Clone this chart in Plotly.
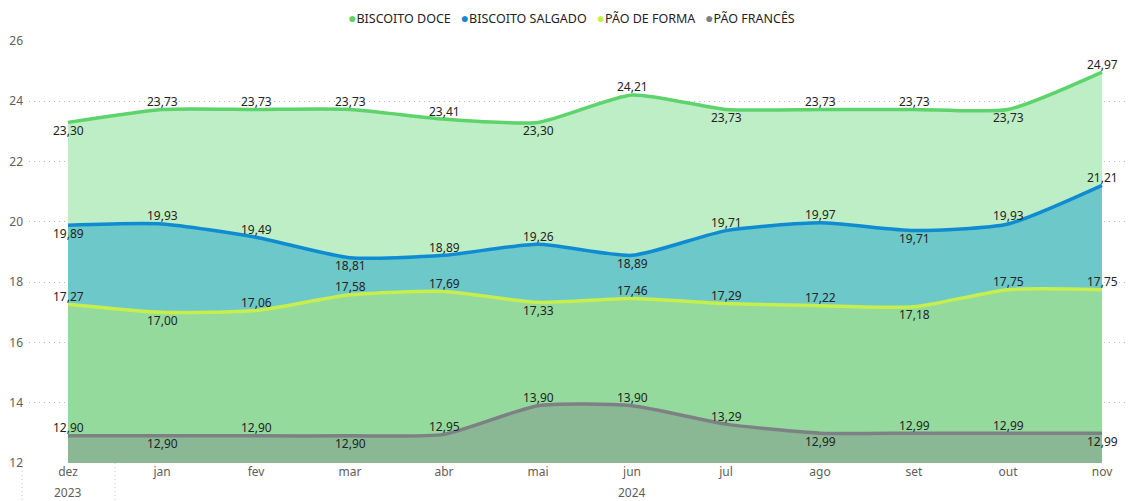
import plotly.graph_objects as go

months = ["dez", "jan", "fev", "mar", "abr", "mai", "jun", "jul", "ago", "set", "out", "nov"]
years = ["2023", "2024"]
year_centers = [0, 6]

series_names = ["BISCOITO DOCE", "BISCOITO SALGADO", "PÃO DE FORMA", "PÃO FRANCÊS"]
doce = [23.30, 23.73, 23.73, 23.73, 23.41, 23.30, 24.21, 23.73, 23.73, 23.73, 23.73, 24.97]
salgado = [19.89, 19.93, 19.49, 18.81, 18.89, 19.26, 18.89, 19.71, 19.97, 19.71, 19.93, 21.21]
forma = [17.27, 17.00, 17.06, 17.58, 17.69, 17.33, 17.46, 17.29, 17.22, 17.18, 17.75, 17.75]
frances = [12.90, 12.90, 12.90, 12.90, 12.95, 13.90, 13.90, 13.29, 12.99, 12.99, 12.99, 12.99]

# label placement: 1 = above, -1 = below
doce_pos = [-1, 1, 1, 1, 1, -1, 1, -1, 1, 1, -1, 1]
salgado_pos = [-1, 1, 1, -1, 1, 1, -1, 1, 1, -1, 1, 1]
forma_pos = [1, -1, 1, 1, 1, -1, 1, 1, 1, -1, 1, 1]
frances_pos = [1, -1, 1, -1, 1, 1, 1, 1, -1, 1, 1, -1]

line_colors = ["#5CD36B", "#0F8BD2", "#C6EF4E", "#7D8084"]
fill_colors = ["#BEEEC5", "#6DC8CA", "#94DA9C", "#8AB895"]

all_values = [doce, salgado, forma, frances]
all_pos = [doce_pos, salgado_pos, forma_pos, frances_pos]

x = list(range(len(months)))
FONT = "Segoe UI, Noto Sans, sans-serif"

# page offset caused by the default body margin
OFF = 8
W, H = 1134 - OFF, 501 - OFF
L = 29 - OFF
T = 41 - OFF
B = H - (463 - OFF)
R = 0
PW, PH = W - L - R, H - T - B
X0PX = 68 - OFF   # figure pixel of first category
STEP = 94         # pixels per category
xmin = -(X0PX - L) / STEP
xmax = xmin + PW / STEP

fig = go.Figure()
for name, vals, lc, fc in zip(series_names, all_values, line_colors, fill_colors):
    fig.add_trace(go.Scatter(
        x=x, y=vals, name=name, mode="lines",
        line=dict(color=lc, width=3.5, shape="spline", smoothing=0.6),
        fill="tozeroy", fillcolor=fc, showlegend=False, hoverinfo="skip",
    ))

annotations = []
for vals, pos in zip(all_values, all_pos):
    for xi, v, p in zip(x, vals, pos):
        annotations.append(dict(
            x=xi, y=v, xref="x", yref="y", text=f"{v:.2f}".replace(".", ","),
            showarrow=False, yshift=8 * p, yanchor="middle",
            font=dict(family=FONT, size=12, color="#252423"),
        ))

for yr, xc in zip(years, year_centers):
    annotations.append(dict(
        x=xc, y=-29 / PH, xref="x", yref="paper", text=yr, showarrow=False,
        yanchor="middle", font=dict(family=FONT, size=12, color="#605E5C"),
    ))

legend_text = "&nbsp;&nbsp;&nbsp;".join(
    f"<span style='color:{c};font-size:14px'>●</span>{n}"
    for n, c in zip(series_names, line_colors)
)
annotations.append(dict(
    x=(571 - OFF - L) / PW, y=1 + (T - (17 - OFF)) / PH, xref="paper", yref="paper",
    text=legend_text, showarrow=False, xanchor="center", yanchor="middle",
    font=dict(family=FONT, size=12.5, color="#252423"),
))

shapes = []
for xb_px in [22, 115]:
    xp = (xb_px - OFF - L) / PW
    shapes.append(dict(
        type="line", xref="paper", yref="paper", x0=xp, x1=xp, y0=0, y1=-B / PH,
        line=dict(color="#C8C6C4", width=1, dash="1px,3px"),
    ))

fig.update_layout(
    width=W, height=H,
    margin=dict(l=L, r=R, t=T, b=B, autoexpand=False),
    paper_bgcolor="white", plot_bgcolor="white",
    annotations=annotations, shapes=shapes,
    xaxis=dict(
        tickmode="array", tickvals=x, ticktext=months, automargin=False,
        range=[xmin, xmax], showgrid=False, zeroline=False, showline=False,
        ticks="", ticklen=0, tickfont=dict(family=FONT, size=12, color="#605E5C"),
    ),
    yaxis=dict(
        range=[12, 26], dtick=2, showgrid=True, griddash="1px,4px", gridcolor="#B8B6B4",
        gridwidth=1, zeroline=False, showline=False, ticks="", ticklen=0,
        automargin=False, ticklabelstandoff=5,
        tickfont=dict(family=FONT, size=12, color="#605E5C"),
    ),
)

fig.write_html("out.html")
